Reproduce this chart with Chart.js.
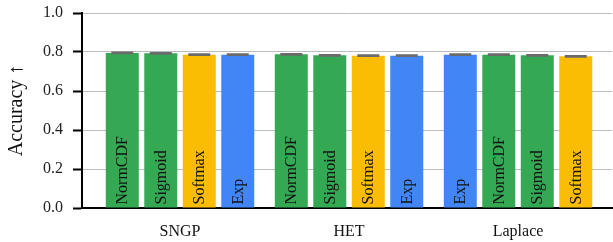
<!DOCTYPE html>
<html>
<head>
<meta charset="utf-8">
<script src="https://cdn.jsdelivr.net/npm/chart.js@4"></script>
<style>
  html, body { margin: 0; padding: 0; background: #fff; }
  #wrap { width: 613px; height: 242px; }
</style>
</head>
<body>
<div id="wrap"><canvas id="accChart"></canvas></div>
<script>
// Data
const groups = ['SNGP', 'HET', 'Laplace'];
const sngpMethods = ['NormCDF', 'Sigmoid', 'Softmax', 'Exp'];
const sngpAcc = [0.795, 0.793, 0.786, 0.786];
const hetMethods = ['NormCDF', 'Sigmoid', 'Softmax', 'Exp'];
const hetAcc = [0.788, 0.783, 0.781, 0.781];
const laplaceMethods = ['Exp', 'NormCDF', 'Sigmoid', 'Softmax'];
const laplaceAcc = [0.786, 0.786, 0.783, 0.778];
const accErr = [0.002, 0.002, 0.002, 0.002];
const yTicks = [0.0, 0.2, 0.4, 0.6, 0.8, 1.0];

const methodColors = {
    NormCDF: '#34a853',
    Sigmoid: '#34a853',
    Softmax: '#fbbc04',
    Exp: '#4285f4'
};
const FONT = "'Liberation Serif', 'Times New Roman', serif";

// One dataset per bar slot inside a group
const allMethods = [sngpMethods, hetMethods, laplaceMethods];
const allAcc = [sngpAcc, hetAcc, laplaceAcc];
const datasets = [0, 1, 2, 3].map(slot => ({
    data: allAcc.map((acc, g) => ({ x: g, y: acc[slot] })),
    methods: allMethods.map(m => m[slot]),
    errs: allAcc.map(() => accErr[slot]),
    backgroundColor: allMethods.map(m => methodColors[m[slot]]),
    borderWidth: 0,
    categoryPercentage: 0.911,
    barPercentage: 0.857
}));

// Rotated labels inside the bars + small error bars
const barExtras = {
    id: 'barExtras',
    afterDatasetsDraw(chart) {
        const ctx = chart.ctx;
        const y = chart.scales.y;
        chart.data.datasets.forEach((ds, i) => {
            const meta = chart.getDatasetMeta(i);
            meta.data.forEach((bar, j) => {
                // label
                ctx.save();
                ctx.translate(bar.x + 1, bar.base - 3);
                ctx.rotate(-Math.PI / 2);
                ctx.font = '16px ' + FONT;
                ctx.fillStyle = '#111';
                ctx.textAlign = 'left';
                ctx.textBaseline = 'middle';
                ctx.fillText(ds.methods[j], 0, 0);
                ctx.restore();

                // error bar
                const v = ds.data[j].y, e = ds.errs[j];
                const hi = y.getPixelForValue(v + e);
                const lo = y.getPixelForValue(v - e);
                ctx.save();
                ctx.strokeStyle = '#6b6b6b';
                ctx.lineWidth = 2;
                ctx.beginPath();
                ctx.moveTo(bar.x - 11, hi); ctx.lineTo(bar.x + 11, hi);
                ctx.moveTo(bar.x - 11, lo); ctx.lineTo(bar.x + 11, lo);
                ctx.moveTo(bar.x, hi); ctx.lineTo(bar.x, lo);
                ctx.stroke();
                ctx.restore();
            });
        });
    }
};

const ctxAcc = document.getElementById('accChart').getContext('2d');
const accChart = new Chart(ctxAcc, {
    type: 'bar',
    data: { datasets: datasets },
    options: {
        responsive: true,
        maintainAspectRatio: false,
        animation: false,
        layout: { padding: { top: 13, right: 1, left: 0, bottom: 0 } },
        plugins: {
            legend: { display: false },
            tooltip: { enabled: false }
        },
        scales: {
            x: {
                type: 'linear',
                offset: false,
                min: -0.58,
                max: 2.556,
                afterBuildTicks: s => { s.ticks = groups.map((g, i) => ({ value: i })); },
                afterFit: s => { s.height = 34; s.paddingLeft = 0; s.paddingRight = 0; },
                grid: { display: false, drawTicks: false },
                border: { display: true, color: '#000', width: 2 },
                ticks: {
                    padding: 14,
                    color: '#111',
                    font: { family: FONT, size: 16 },
                    callback: v => groups[v]
                }
            },
            y: {
                min: 0,
                max: 1,
                afterBuildTicks: s => { s.ticks = yTicks.map(v => ({ value: v })); },
                afterFit: s => { s.width = 82; s.paddingTop = 0; s.paddingBottom = 0; },
                grid: {
                    color: '#bdbdbd',
                    lineWidth: 1,
                    tickColor: '#000',
                    tickWidth: 2,
                    tickLength: 9
                },
                border: { display: true, color: '#000', width: 2 },
                ticks: {
                    padding: 10,
                    color: '#222',
                    font: { family: FONT, size: 16 },
                    callback: v => v.toFixed(1)
                },
                title: {
                    display: true,
                    text: 'Accuracy ↑',
                    color: '#111',
                    font: { family: FONT, size: 20 },
                    padding: { top: 5, bottom: 6 }
                }
            }
        }
    },
    plugins: [barExtras]
});
</script>
</body>
</html>
